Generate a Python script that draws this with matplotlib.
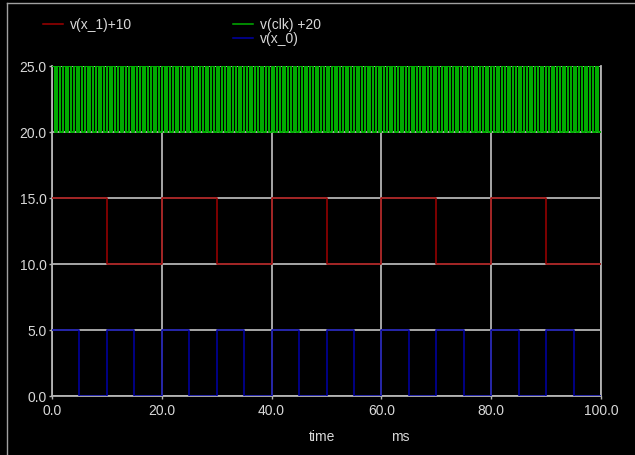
import numpy as np
import matplotlib
matplotlib.use("Agg")
import matplotlib.pyplot as plt
from matplotlib.lines import Line2D

# ---- data ----
x1_seg_ms = 10.0
x1_levels = [15, 10, 15, 10, 15, 10, 15, 10, 15, 10]          # v(x_1)+10
x0_seg_ms = 5.0
x0_levels = [5, 0] * 10                                       # v(x_0)
clk_half_ms = 0.5
clk_levels = [25, 20] * 100                                    # v(clk)+20
x_ticks = [0, 20, 40, 60, 80, 100]
x_tick_labels = ["0.0", "20.0", "40.0", "60.0", "80.0", "100.0"]
y_ticks = [0, 5, 10, 15, 20, 25]
y_tick_labels = ["0.0", "5.0", "10.0", "15.0", "20.0", "25.0"]
series_names = ["v(x_1)+10", "v(clk) +20", "v(x_0)"]

RED = "#a00000"
GREEN = "#00b000"
BLUE = "#0000a8"
GRID = "#b4b4b4"
TXT = "#d8d8d8"

plt.rcParams['font.family'] = ['Liberation Sans', 'DejaVu Sans']

fig = plt.figure(figsize=(6.35, 4.56), dpi=100, facecolor="black")
ax = fig.add_axes([52/635, 1-397/456, (601-52)/635, (397-67)/456])
ax.set_facecolor("black")


def step_xy(levels, seg):
    t = np.arange(len(levels) + 1) * seg
    y = list(levels) + [levels[-1]]
    return t, y


for levels, seg, col, z, lw in [(x1_levels, x1_seg_ms, RED, 3, 1.1),
                                (x0_levels, x0_seg_ms, BLUE, 3, 1.1),
                                (clk_levels, clk_half_ms, GREEN, 4, 1.4)]:
    t, y = step_xy(levels, seg)
    ax.step(t, y, where="post", color=col, lw=lw, zorder=z)

ax.set_xlim(0, 100)
ax.set_ylim(0, 25)
ax.set_xticks(x_ticks)
ax.set_xticklabels(x_tick_labels)
ax.set_yticks(y_ticks)
ax.set_yticklabels(y_tick_labels)
ax.grid(True, color=GRID, lw=1.3, zorder=1)
ax.set_axisbelow(True)
ax.tick_params(colors=TXT, labelsize=10, length=2, width=1, color=GRID, pad=2)
ax.tick_params(axis="x", pad=3)
for s in ["left", "bottom", "right"]:
    ax.spines[s].set_color(GRID)
    ax.spines[s].set_linewidth(1.3)
ax.spines["top"].set_visible(False)

# x label
fig.text(322/635, 1-437/456, "time", color=TXT, fontsize=10, ha="center", va="center")
fig.text(400/635, 1-437/456, "ms", color=TXT, fontsize=10, ha="center", va="center")

# legend
def legend_entry(x0, y, col, label):
    yf = 1 - y/456
    fig.add_artist(Line2D([x0/635, (x0+20)/635], [yf, yf], color=col, lw=1.1))
    fig.text((x0+27)/635, yf, label, color=TXT, fontsize=10, va="center", ha="left")

legend_entry(43, 25, RED, series_names[0])
legend_entry(233, 25, GREEN, series_names[1])
legend_entry(233, 39, BLUE, series_names[2])

# window frame
fig.add_artist(Line2D([7/635, 1], [1-4/456, 1-4/456], color="#a0a0a0", lw=1.0))
fig.add_artist(Line2D([7/635, 7/635], [0, 1-4/456], color="#a0a0a0", lw=1.0))

fig.savefig("out.png", dpi=100, facecolor="black")
